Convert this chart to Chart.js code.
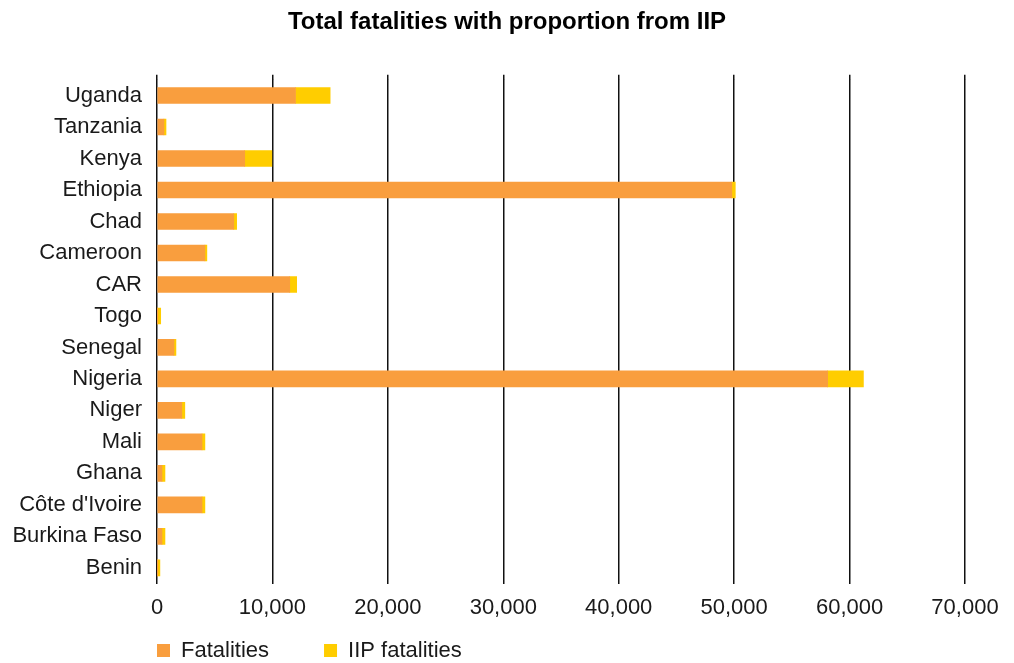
<!DOCTYPE html>
<html>
<head>
<meta charset="utf-8">
<script src="https://cdn.jsdelivr.net/npm/chart.js@4"></script>
<style>
  html, body { margin: 0; padding: 0; background: #fff; }
  #wrap { width: 1014px; height: 663px; }
</style>
</head>
<body>
<div id="wrap"><canvas id="fatalities"></canvas></div>
<script>
const countries = ["Uganda", "Tanzania", "Kenya", "Ethiopia", "Chad", "Cameroon", "CAR", "Togo",
  "Senegal", "Nigeria", "Niger", "Mali", "Ghana", "Côte d'Ivoire", "Burkina Faso", "Benin"];
const fatalities = [12000, 600, 7600, 49800, 6650, 4150, 11500, 20, 1470, 58100, 2150, 3900, 430, 3900, 430, 20];
const iipFatalities = [3000, 180, 2350, 300, 250, 170, 600, 300, 170, 3100, 260, 250, 260, 250, 260, 230];
const xTicks = [0, 10000, 20000, 30000, 40000, 50000, 60000, 70000];

const legendPad = 55;

// push the legend so it starts under the plot area instead of the canvas edge
const legendShift = {
  id: 'legendShift',
  afterLayout(chart) {
    chart.legend.left = chart.chartArea.left - legendPad;
    chart.legend.top = chart.chartArea.bottom + 56 - legendPad;
  }
};

const font = { family: "'Liberation Sans', Arial, sans-serif", size: 22 };
const gridColor = '#111';

let chart_fatalities = new Chart(document.getElementById("fatalities"), {
  type: 'bar',
  data: {
    labels: countries,
    datasets: [
      {
        label: "Fatalities",
        backgroundColor: "#F99E3E",
        data: fatalities
      },
      {
        label: "IIP fatalities",
        backgroundColor: "#FFCD00",
        data: iipFatalities
      }
    ]
  },
  options: {
    indexAxis: 'y',
    responsive: true,
    maintainAspectRatio: false,
    animation: false,
    layout: { padding: 0 },
    datasets: {
      bar: { barThickness: 16, borderWidth: 0 }
    },
    scales: {
      x: {
        stacked: true,
        min: xTicks[0],
        max: xTicks[xTicks.length - 1],
        afterBuildTicks: (scale) => { scale.ticks = xTicks.map(v => ({ value: v })); },
        grid: { color: gridColor, lineWidth: 1.5, drawTicks: false },
        border: { display: false },
        ticks: { font: font, color: '#1a1a1a', padding: 11 }
      },
      xTop: {
        type: 'linear',
        position: 'top',
        min: xTicks[0],
        max: xTicks[xTicks.length - 1],
        afterBuildTicks: (scale) => { scale.ticks = xTicks.map(v => ({ value: v })); },
        grid: { color: gridColor, lineWidth: 1.5, drawOnChartArea: false, drawTicks: true, tickLength: 5 },
        border: { display: false },
        ticks: { display: false }
      },
      y: {
        stacked: true,
        grid: { display: false, drawTicks: false },
        border: { display: false },
        ticks: { font: font, color: '#1a1a1a', padding: 15 },
        afterFit: (scale) => { scale.width = 157; }
      },
      // empty spacer on the right so the title stays centred on the canvas
      yRight: {
        type: 'linear',
        position: 'right',
        grid: { display: false },
        border: { display: false },
        ticks: { display: false },
        afterFit: (scale) => { scale.width = 49; }
      }
    },
    plugins: {
      title: {
        display: true,
        text: 'Total fatalities with proportion from IIP',
        color: '#000',
        font: { family: "'Liberation Sans', Arial, sans-serif", size: 24, weight: 'bold' },
        padding: { top: 8, bottom: 38 }
      },
      legend: {
        position: 'bottom',
        align: 'start',
        maxHeight: 31,
        labels: {
          boxWidth: 13,
          boxHeight: 13,
          padding: legendPad,
          color: '#1a1a1a',
          font: font
        }
      },
      tooltip: { enabled: false }
    }
  },
  plugins: [legendShift]
});
</script>
</body>
</html>
